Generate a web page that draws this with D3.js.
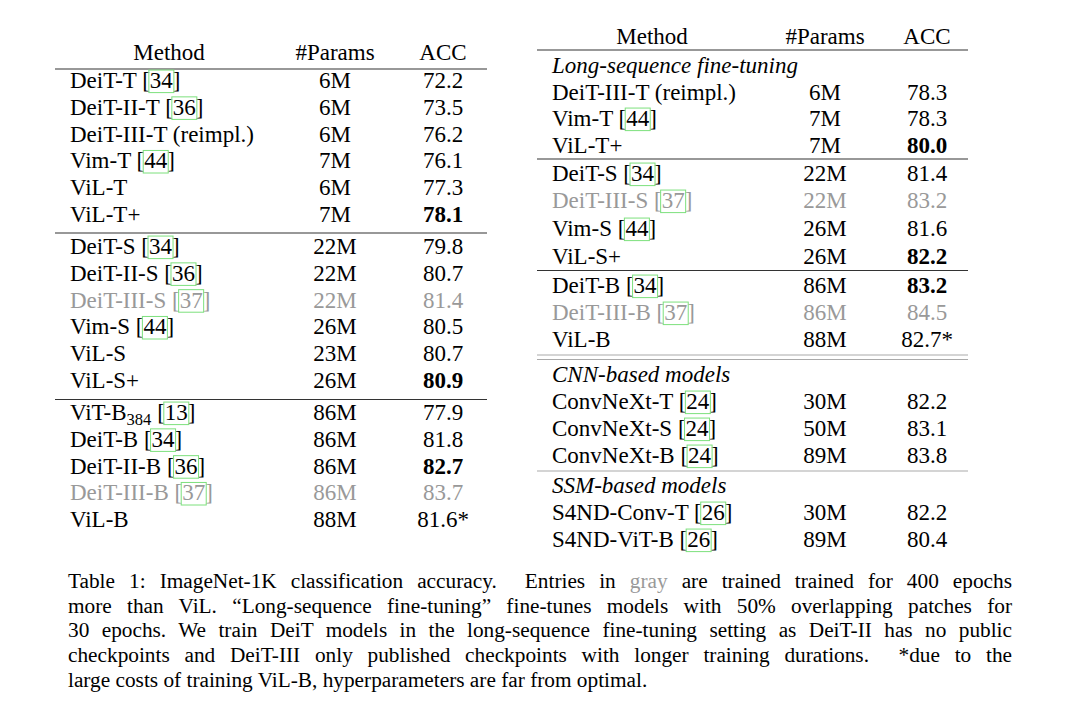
<!DOCTYPE html>
<html><head><meta charset="utf-8">
<script src="https://cdn.jsdelivr.net/npm/d3@7/dist/d3.min.js"></script>
<style>body{margin:0;background:#fff} text{font-family:"Liberation Serif",Tinos,"Times New Roman","DejaVu Serif",serif}</style></head>
<body><svg id="c" width="1080" height="720"></svg>
<script>
// ---- data ----
const leftMethods = ["DeiT-T","DeiT-II-T","DeiT-III-T (reimpl.)","Vim-T","ViL-T","ViL-T+",
  "DeiT-S","DeiT-II-S","DeiT-III-S","Vim-S","ViL-S","ViL-S+",
  "ViT-B","DeiT-B","DeiT-II-B","DeiT-III-B","ViL-B"];
const leftCites = ["34","36","","44","","", "34","36","37","44","","", "13","34","36","37",""];
const leftParams = ["6M","6M","6M","7M","6M","7M","22M","22M","22M","26M","23M","26M","86M","86M","86M","86M","88M"];
const leftAcc = ["72.2","73.5","76.2","76.1","77.3","78.1","79.8","80.7","81.4","80.5","80.7","80.9","77.9","81.8","82.7","83.7","81.6*"];
const leftBold = [5,11,14];
const leftGray = [8,15];
const leftGroupStart = [0,6,12];

const rightMethods = ["Long-sequence fine-tuning","DeiT-III-T (reimpl.)","Vim-T","ViL-T+",
  "DeiT-S","DeiT-III-S","Vim-S","ViL-S+",
  "DeiT-B","DeiT-III-B","ViL-B",
  "CNN-based models","ConvNeXt-T","ConvNeXt-S","ConvNeXt-B",
  "SSM-based models","S4ND-Conv-T","S4ND-ViT-B"];
const rightCites = ["","","44","", "34","37","44","", "34","37","", "","24","24","24", "","26","26"];
const rightParams = ["","6M","7M","7M","22M","22M","26M","26M","86M","86M","88M","","30M","50M","89M","","30M","89M"];
const rightAcc = ["","78.3","78.3","80.0","81.4","83.2","81.6","82.2","83.2","84.5","82.7*","","82.2","83.1","83.8","","82.2","80.4"];
const rightBold = [3,7,8];
const rightGray = [5,9];
const rightItalic = [0,11,15];
const rightCenters = [65,92,118,145,173,200,228,256,285,312,339,374,401,428,455,485,512,539];

const headers = ["Method","#Params","ACC"];
const captionLines = [
  ["Table 1: ImageNet-1K classification accuracy.  Entries in ","gray"," are trained trained for 400 epochs"],
  ["more than ViL. “Long-sequence fine-tuning” fine-tunes models with 50% overlapping patches for"],
  ["30 epochs. We train DeiT models in the long-sequence fine-tuning setting as DeiT-II has no public"],
  ["checkpoints and DeiT-III only published checkpoints with longer training durations.  *due to the"],
  ["large costs of training ViL-B, hyperparameters are far from optimal."]
];

// ---- drawing ----
const svg = d3.select("#c");
const FS = 23, GRAY = "#999", BOX = "#7de07d";

function methodText(x, yb, name, cite, opts) {
  const t = svg.append("text").attr("x", x).attr("y", yb)
    .attr("font-size", FS)
    .attr("fill", opts.gray ? GRAY : "#000")
    .attr("font-style", opts.italic ? "italic" : null);
  let s = name;
  t.append("tspan").text(name);
  if (name === "ViT-B") { t.append("tspan").attr("font-size", FS*0.72).attr("dy", 5).text("384"); s += "384"; }
  if (cite) {
    t.append("tspan").attr("dy", name === "ViT-B" ? -5 : null).text(" [" + cite + "]");
    const start = s.length + 2;
    const node = t.node();
    const x0 = node.getStartPositionOfChar(start).x;
    const w = node.getSubStringLength(start, cite.length);
    svg.append("rect").attr("x", x0 - 1).attr("y", yb - FS*0.78).attr("width", w + 2).attr("height", FS*0.98)
      .attr("fill", "none").attr("stroke", BOX).attr("stroke-width", 1);
  }
}
function cell(x, yb, txt, bold, gray) {
  svg.append("text").attr("x", x).attr("y", yb).attr("text-anchor", "middle")
    .attr("font-size", FS)
    .attr("font-weight", bold ? "bold" : null).attr("fill", gray ? GRAY : "#000").text(txt);
}
function rule(x1, x2, y, color, w) {
  svg.append("line").attr("x1", x1).attr("x2", x2).attr("y1", y).attr("y2", y)
    .attr("stroke", color).attr("stroke-width", w);
}

// left table
const L = {x1: 55, x2: 487, mx: 70, px: 335, ax: 443};
const lPitch = 26.8;
function leftCenter(i) {
  const g = i < 6 ? 0 : i < 12 ? 1 : 2;
  return 80 + g*(5*lPitch + 32) + (i - leftGroupStart[g]) * lPitch;
}
cell(169, 60, headers[0]); cell(L.px, 60, headers[1]); cell(L.ax, 60, headers[2]);
rule(L.x1, L.x2, 69, "#333", 1.2);
rule(L.x1, L.x2, 233, "#333", 1.2);
rule(L.x1, L.x2, 399.5, "#333", 1.2);
leftMethods.forEach((m, i) => {
  const yb = leftCenter(i) + 8;
  const g = leftGray.includes(i);
  methodText(L.mx, yb, m, leftCites[i], {gray: g});
  cell(L.px, yb, leftParams[i], false, g);
  cell(L.ax, yb, leftAcc[i], leftBold.includes(i), g);
});

// right table
const R = {x1: 537, x2: 968, mx: 552, px: 825, ax: 927};
cell(652, 44, headers[0]); cell(R.px, 44, headers[1]); cell(R.ax, 44, headers[2]);
rule(R.x1, R.x2, 50, "#333", 1.2);
rule(R.x1, R.x2, 159, "#333", 1.2);
rule(R.x1, R.x2, 270.5, "#333", 1.2);
rule(R.x1, R.x2, 355, "#aaa", 1.2);
rule(R.x1, R.x2, 359.5, "#aaa", 1.2);
rule(R.x1, R.x2, 471, "#aaa", 1.2);
rightMethods.forEach((m, i) => {
  const yb = rightCenters[i] + 8;
  const g = rightGray.includes(i);
  methodText(R.mx, yb, m, rightCites[i], {gray: g, italic: rightItalic.includes(i)});
  if (rightParams[i]) cell(R.px, yb, rightParams[i], false, g);
  if (rightAcc[i]) cell(R.ax, yb, rightAcc[i], rightBold.includes(i), g);
});

// caption
const CX1 = 68, CX2 = 1012, CFS = 21.3;
captionLines.forEach((parts, i) => {
  const t = svg.append("text").attr("x", CX1).attr("y", 588 + i*24.7)
    .attr("font-size", CFS).style("white-space", "pre");
  parts.forEach((p, j) => t.append("tspan").attr("fill", (parts.length === 3 && j === 1) ? GRAY : "#000").text(p));
  if (i < captionLines.length - 1) {
    const w = t.node().getComputedTextLength();
    const spaces = parts.join("").split(" ").length - 1;
    t.attr("word-spacing", (CX2 - CX1 - w) / spaces);
  }
});
</script></body></html>
